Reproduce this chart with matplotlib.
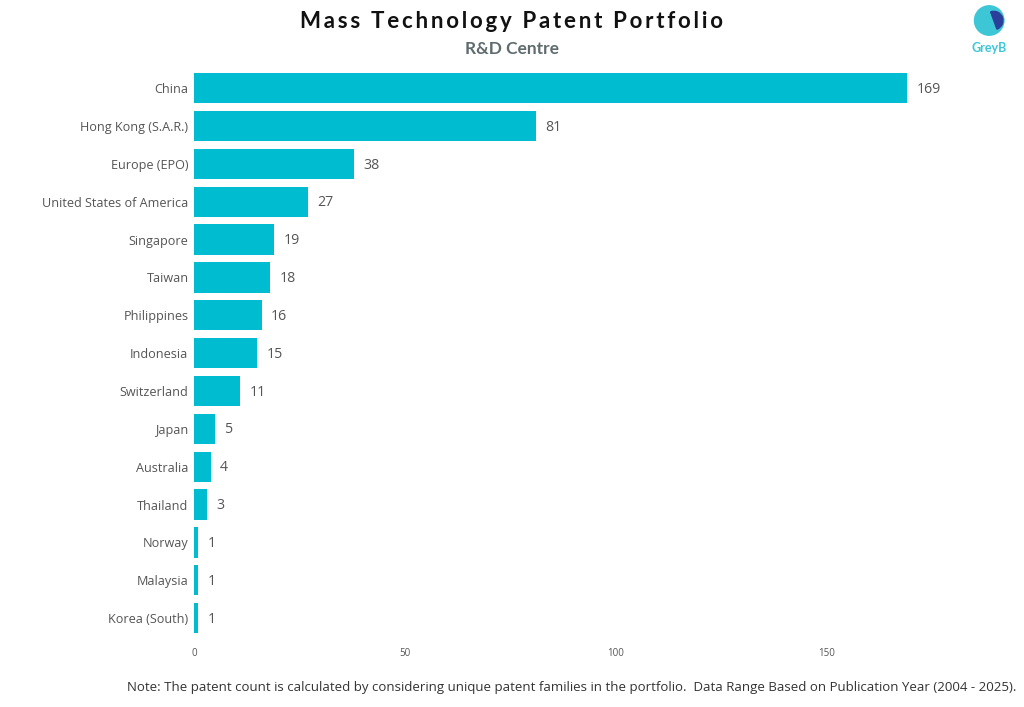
import matplotlib
matplotlib.use("Agg")
import matplotlib.pyplot as plt
from matplotlib.patches import Circle, Wedge

categories = ["China", "Hong Kong (S.A.R.)", "Europe (EPO)", "United States of America",
              "Singapore", "Taiwan", "Philippines", "Indonesia", "Switzerland", "Japan",
              "Australia", "Thailand", "Norway", "Malaysia", "Korea (South)"]
values = [169, 81, 38, 27, 19, 18, 16, 15, 11, 5, 4, 3, 1, 1, 1]
xticks = [0, 50, 100, 150]

fig = plt.figure(figsize=(10.24, 7.07), dpi=100)
ax = fig.add_axes([0.1895, 0.099, 0.785, 0.803])
ypos = list(range(len(categories)))
ax.barh(ypos, values, height=0.8, color="#00BCD0")
ax.set_ylim(len(categories) - 0.5, -0.5)
ax.set_xlim(0, 190.5)
ax.set_yticks(ypos)
ax.set_yticklabels(categories, fontsize=9.1, color="#555555", family="Open Sans")
ax.set_xticks(xticks)
ax.set_xticklabels([str(t) for t in xticks], fontsize=7, color="#555555", family="Open Sans")
ax.tick_params(axis="both", length=0, pad=4)
ax.tick_params(axis="x", pad=8)
for s in ax.spines.values():
    s.set_visible(False)
for y, v in zip(ypos, values):
    ax.text(v + 2.2, y + 0.03, str(v), va="center", ha="left", fontsize=10.2,
            color="#555555", family="Open Sans")

# Title with letter spacing
title = "Mass Technology Patent Portfolio"
fig.text(0.5, 0.969, "\u2009".join(title).replace("\u2009 \u2009", "  "), ha="center", va="center",
         fontsize=16, fontweight="bold", family=["Lato", "DejaVu Sans"], color="#111111")
fig.text(0.5, 0.930, "R&D Centre", ha="center", va="center", fontsize=12.5,
         fontweight="bold", family="Lato", color="#5f6b6d")

# Logo
lax = fig.add_axes([0.948, 0.945, 0.036, 0.052])
lax.set_xlim(-1, 1); lax.set_ylim(-1, 1); lax.set_aspect("equal"); lax.axis("off")
lax.add_patch(Circle((0, 0), 0.8, color="#3cc6d6"))
lax.add_patch(Wedge((0.25, 0.0), 0.5, -70, 110, color="#2a3f9a"))
fig.text(0.966, 0.932, "GreyB", ha="center", va="center", fontsize=9,
         color="#3cc6d6", family="Lato", fontweight="bold")

fig.text(0.993, 0.027, "Note: The patent count is calculated by considering unique patent families in the portfolio.  Data Range Based on Publication Year (2004 - 2025).",
         ha="right", va="center", fontsize=9.55, color="#333333", family="Open Sans")

fig.savefig("out.png", dpi=100, facecolor="white")
